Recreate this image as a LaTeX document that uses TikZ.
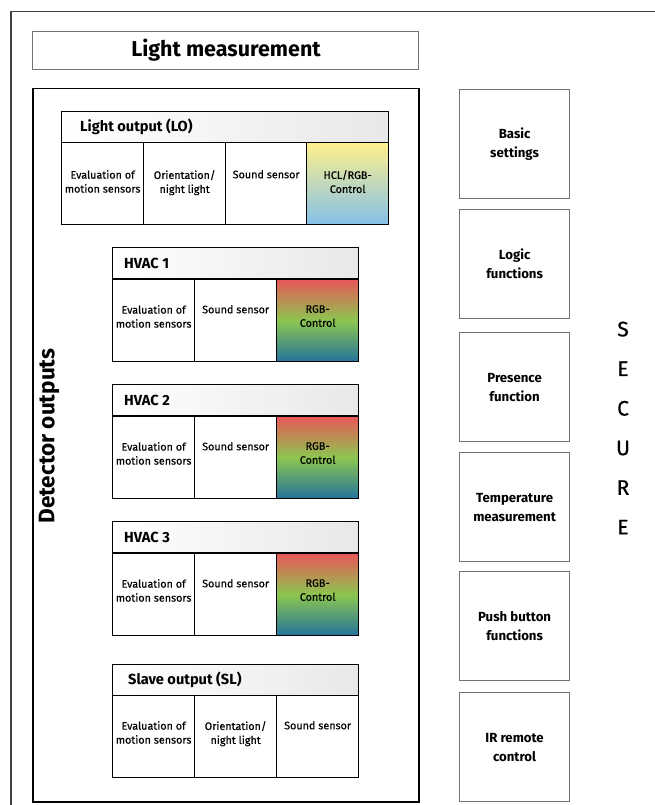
\documentclass[tikz,border=0pt]{standalone}
\usepackage{fontspec}
\setmainfont{Fira Sans}[UprightFeatures={FakeBold=0.5}]
\definecolor{hclY}{RGB}{255,240,140}
\definecolor{hclB}{RGB}{132,192,234}
\definecolor{rgbR}{RGB}{232,88,88}
\definecolor{rgbG}{RGB}{140,198,80}
\definecolor{rgbB}{RGB}{36,116,156}
\definecolor{hdrG}{RGB}{232,232,232}
\definecolor{boxG}{RGB}{115,115,115}
\definecolor{frameG}{RGB}{64,64,64}
\begin{document}
\begin{tikzpicture}[x=1pt,y=-1pt,
  cell/.style={draw=black,line width=1.3pt,anchor=north west,minimum width=82pt,minimum height=82pt,inner sep=0pt},
  hdr/.style={draw=black,line width=1.3pt,anchor=north west,minimum height=31pt,inner sep=0pt,left color=white,right color=hdrG},
  ctext/.style={anchor=north,inner sep=0pt,align=center,font=\fontsize{10.8}{14}\selectfont},
  htext/.style={anchor=west,inner sep=0pt,font=\fontsize{14.6}{16}\bfseries\selectfont},
  sidebox/.style={draw=boxG,line width=1.2pt,anchor=north west,minimum width=110pt,minimum height=109pt,inner sep=0pt},
  stext/.style={align=center,inner sep=0pt,font=\fontsize{13.2}{19}\bfseries\selectfont},
  rgbcell/.style={cell,top color=rgbR,bottom color=rgbB,middle color=rgbG},
  hclcell/.style={cell,top color=hclY,bottom color=hclB}
]
\useasboundingbox (0,0) rectangle (655,805);
% outer frame
\coordinate (ofA) at (11,811);
\coordinate (ofB) at (11,11.5);
\coordinate (ofC) at (660,11.5);
\draw[frameG,line width=1.8pt] (ofA) -- (ofB) -- (ofC);
% light measurement
\node[draw=boxG,line width=1.2pt,anchor=north west,minimum width=386pt,minimum height=38pt,inner sep=0pt] (lm) at (32,31) {};
\node[inner sep=0pt,font=\fontsize{21.5}{24}\bfseries\selectfont] (lmt) at (226,50) {Light measurement};
% detector outputs frame
\node[draw=black,line width=1.5pt,anchor=north west,minimum width=386pt,minimum height=713pt,inner sep=0pt] (det) at (32,88) {};
\node[rotate=90,inner sep=0pt,font=\fontsize{22.5}{26}\bfseries\selectfont] (dett) at (49,436) {Detector outputs};

% Light output table
\node[hdr,minimum width=327pt] (lo) at (61,111) {};
\node[htext] (lot) at ([xshift=19pt]lo.west) {Light output (LO)};
\node[cell,minimum width=82pt] (lo1) at (61,142) {};
\node[cell,minimum width=82pt] (lo2) at (143,142) {};
\node[cell,minimum width=81pt] (lo3) at (225,142) {};
\node[hclcell,minimum width=82pt] (lo4) at (306,142) {};
\node[ctext] (lo1t) at ([yshift=-28pt]lo1.north) {Evaluation of\\motion sensors};
\node[ctext] (lo2t) at ([yshift=-28pt]lo2.north) {Orientation/\\night light};
\node[ctext] (lo3t) at ([yshift=-28pt]lo3.north) {Sound sensor};
\node[ctext] (lo4t) at ([yshift=-28pt]lo4.north) {HCL/RGB-\\Control};

% HVAC 1
\node[hdr,minimum width=246pt] (h1) at (112,247) {};
\node[htext] (h1t) at ([xshift=12pt]h1.west) {HVAC 1};
\node[cell] (h1a) at (112,279) {};
\node[cell] (h1b) at (194,279) {};
\node[rgbcell] (h1c) at (276,279) {};
\node[ctext] (h1at) at ([yshift=-26pt]h1a.north) {Evaluation of\\motion sensors};
\node[ctext] (h1bt) at ([yshift=-26pt]h1b.north) {Sound sensor};
\node[ctext] (h1ct) at ([yshift=-26pt]h1c.north) {RGB-\\Control};

% HVAC 2
\node[hdr,minimum width=246pt] (h2) at (112,384) {};
\node[htext] (h2t) at ([xshift=12pt]h2.west) {HVAC 2};
\node[cell] (h2a) at (112,416) {};
\node[cell] (h2b) at (194,416) {};
\node[rgbcell] (h2c) at (276,416) {};
\node[ctext] (h2at) at ([yshift=-26pt]h2a.north) {Evaluation of\\motion sensors};
\node[ctext] (h2bt) at ([yshift=-26pt]h2b.north) {Sound sensor};
\node[ctext] (h2ct) at ([yshift=-26pt]h2c.north) {RGB-\\Control};

% HVAC 3
\node[hdr,minimum width=246pt] (h3) at (112,521) {};
\node[htext] (h3t) at ([xshift=12pt]h3.west) {HVAC 3};
\node[cell] (h3a) at (112,553) {};
\node[cell] (h3b) at (194,553) {};
\node[rgbcell] (h3c) at (276,553) {};
\node[ctext] (h3at) at ([yshift=-26pt]h3a.north) {Evaluation of\\motion sensors};
\node[ctext] (h3bt) at ([yshift=-26pt]h3b.north) {Sound sensor};
\node[ctext] (h3ct) at ([yshift=-26pt]h3c.north) {RGB-\\Control};

% Slave output
\node[hdr,minimum width=246pt] (sl) at (112,664) {};
\node[htext] (slt) at ([xshift=16pt]sl.west) {Slave output (SL)};
\node[cell] (sla) at (112,695) {};
\node[cell] (slb) at (194,695) {};
\node[cell] (slc) at (276,695) {};
\node[ctext] (slat) at ([yshift=-26pt]sla.north) {Evaluation of\\motion sensors};
\node[ctext] (slbt) at ([yshift=-26pt]slb.north) {Orientation/\\night light};
\node[ctext] (slct) at ([yshift=-26pt]slc.north) {Sound sensor};

% side boxes
\node[sidebox] (s1) at (459,89) {};
\node[stext] (s1t) at (s1.center) {Basic\\settings};
\node[sidebox] (s2) at (459,209) {};
\node[stext] (s2t) at (s2.center) {Logic\\functions};
\node[sidebox] (s3) at (459,332) {};
\node[stext] (s3t) at (s3.center) {Presence\\function};
\node[sidebox] (s4) at (459,452) {};
\node[stext] (s4t) at (s4.center) {Temperature\\measurement};
\node[sidebox] (s5) at (459,571) {};
\node[stext] (s5t) at (s5.center) {Push button\\functions};
\node[sidebox] (s6) at (459,692) {};
\node[stext] (s6t) at (s6.center) {IR remote\\control};

% SECURE
\node[align=center,inner sep=0pt,font=\fontsize{21}{39.6}\selectfont] (sec) at (623,428) {S\\E\\C\\U\\R\\E};
\end{tikzpicture}
\end{document}
